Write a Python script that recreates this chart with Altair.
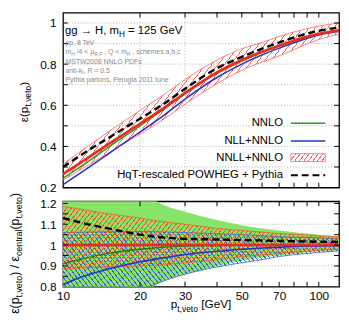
import math
import altair as alt
import pandas as pd

# ---------------- data ----------------
PT = [10, 12, 15, 20, 25, 30, 40, 50, 60, 70, 85, 100, 120]

# upper panel: jet-veto efficiency
EFF_NNLL = [0.265, 0.33, 0.41, 0.51, 0.59, 0.66, 0.76, 0.82, 0.86, 0.89, 0.925, 0.948, 0.965]
EFF_NNLL_UP = [0.314, 0.385, 0.47, 0.575, 0.655, 0.725, 0.82, 0.875, 0.905, 0.935, 0.965, 0.985, 1.0]
EFF_NNLL_DN = [0.235, 0.295, 0.367, 0.46, 0.535, 0.605, 0.705, 0.77, 0.81, 0.84, 0.885, 0.92, 0.945]
EFF_NNLO = [0.245, 0.31, 0.395, 0.50, 0.585, 0.655, 0.755, 0.815, 0.857, 0.887, 0.922, 0.945, 0.962]
EFF_NLL = [0.214, 0.28, 0.363, 0.47, 0.555, 0.63, 0.735, 0.80, 0.845, 0.878, 0.915, 0.942, 0.96]
EFF_POWHEG = [0.30, 0.365, 0.44, 0.535, 0.61, 0.68, 0.78, 0.835, 0.875, 0.905, 0.94, 0.962, 0.978]

# lower panel: ratio to central NNLL+NNLO
R_NNLL = [1.0, 1.0, 1.0, 1.0, 1.0, 1.0, 1.0, 1.0, 1.0, 1.0, 1.0, 1.0, 1.0]
R_POWHEG = [1.13, 1.105, 1.08, 1.05, 1.036, 1.03, 1.027, 1.024, 1.022, 1.02, 1.018, 1.016, 1.015]
R_NLL = [0.81, 0.85, 0.885, 0.92, 0.94, 0.955, 0.97, 0.98, 0.986, 0.99, 0.994, 0.996, 0.997]
R_NNLO = [0.91, 0.935, 0.96, 0.98, 0.99, 0.995, 0.998, 1.0, 1.0, 1.0, 1.0, 1.0, 1.0]
R_NNLO_UP = [1.6, 1.48, 1.36, 1.26, 1.19, 1.16, 1.12, 1.095, 1.08, 1.07, 1.058, 1.05, 1.04]
R_NNLO_DN = [0.55, 0.6, 0.67, 0.76, 0.83, 0.86, 0.9, 0.925, 0.94, 0.95, 0.962, 0.97, 0.975]
R_NNLL_UP = [1.185, 1.17, 1.15, 1.13, 1.11, 1.10, 1.08, 1.07, 1.062, 1.055, 1.05, 1.045, 1.04]
R_NNLL_DN = [0.885, 0.89, 0.895, 0.90, 0.905, 0.915, 0.93, 0.945, 0.953, 0.96, 0.968, 0.975, 0.98]
R_NLL_UP = [1.06, 1.062, 1.064, 1.065, 1.063, 1.06, 1.055, 1.05, 1.045, 1.04, 1.037, 1.035, 1.03]
R_NLL_DN = [0.62, 0.67, 0.71, 0.78, 0.83, 0.86, 0.895, 0.915, 0.93, 0.945, 0.957, 0.965, 0.972]

X_LABELS = [10, 20, 30, 50, 70, 100]
X_TICKS = [20, 30, 40, 50, 60, 70, 80, 90, 100]
X_GRID = [20, 30]
Y1_LABELS = [0.2, 0.4, 0.6, 0.8, 1.0]
Y1_TICKS = [0.3, 0.4, 0.5, 0.6, 0.7, 0.8, 0.9, 1.0]
Y1_GRID = [0.3, 0.4, 0.5, 0.6, 0.7, 0.8, 0.9, 1.0]
Y2_LABELS = [0.8, 0.9, 1.0, 1.1, 1.2]
Y2_TICKS = [0.85, 0.9, 0.95, 1.0, 1.05, 1.1, 1.15, 1.2]
Y2_GRID = [0.9, 1.0, 1.1]

LEGEND = ["NNLO", "NLL+NNLO", "NNLL+NNLO", "HqT-rescaled POWHEG + Pythia"]
INFO = ["pp, 8 TeV", "MSTW2008 NNLO PDFs", "Pythia partons, Perugia 2011 tune"]

# ---------------- style ----------------
FONT = "Liberation Sans"
W, H1, H2 = 281, 178, 87
X_DOM = [10, 120]
Y1_DOM = [0.2, 1.05]
Y2_DOM = [0.8, 1.21]
RED = "#ee2a1c"
PINK = "#ff6464"
GREEN = "#2e992e"
BLUE = "#2233c8"
FILL_GREEN = "#88e468"
ORANGE = "#ee5a28"
HBLUE = "#3c5fcc"
GRID = "#9a9a9a"
GRAYTXT = "#8a8a8a"
CLEAR = "rgba(255,255,255,0)"
ONE = alt.Data(values=[{"k": 0}])

AW = {' ': 278, '(': 333, ')': 333, '+': 584, ',': 278, '-': 333, '.': 278, '/': 278,
      '<': 584, '=': 584, '[': 278, ']': 278, 'ε': 446, 'μ': 577, '→': 1000}
for c in "0123456789":
    AW[c] = 556
AW.update({'A': 667, 'B': 667, 'C': 722, 'D': 722, 'E': 667, 'F': 611, 'G': 778, 'H': 722,
           'I': 278, 'K': 667, 'L': 556, 'M': 833, 'N': 722, 'O': 778, 'P': 667, 'Q': 778,
           'R': 722, 'S': 667, 'T': 611, 'V': 667, 'W': 944})
AW.update({'a': 556, 'b': 556, 'c': 500, 'd': 556, 'e': 556, 'f': 278, 'g': 556, 'h': 556,
           'i': 222, 'k': 500, 'l': 222, 'm': 833, 'n': 556, 'o': 556, 'p': 556, 'r': 333,
           's': 500, 't': 278, 'u': 556, 'v': 500, 'y': 500})


def tw(s, size):
    return sum(AW.get(c, 556) for c in s) / 1000.0 * size


def txt(s, x, y, size, color="black", align="left", baseline="alphabetic", angle=0):
    return alt.Chart(ONE).mark_text(
        text=s, fontSize=size, font=FONT, color=color, align=align,
        baseline=baseline, angle=angle
    ).encode(x=alt.value(x), y=alt.value(y))


def rich(segs, x, y, size, color="black", angle=0, center=False, sub=0.72):
    total = sum(tw(t, size * (sub if k else 1.0)) for t, k in segs)
    pos = -total / 2 if center else 0.0
    out = []
    for t, k in segs:
        fs = size * (sub if k else 1.0)
        shift = size * 0.27 if k else 0.0
        lead = len(t) - len(t.lstrip(" "))
        p = pos + tw(" " * lead, fs)
        s = t.strip(" ")
        if angle == 270:
            out.append(txt(s, x + shift, y - p, fs, color, angle=270))
        else:
            out.append(txt(s, x + p, y + shift, fs, color))
        pos += tw(t, fs)
    return out


def hatch(color, bw, bh, angle, spacing, lw, rising=True):
    s = math.tan(math.radians(angle))
    a0, b0 = s * bw / bh, 1.0
    lam = (a0 + b0) / (a0 * a0 + b0 * b0)
    a, b = a0 * lam, b0 * lam
    rate = a / (bw * (a * a + b * b))
    n = max(1, int(round(1.0 / (spacing * rate))))
    frac = min(0.9, (lw / math.sin(math.radians(angle))) / spacing)
    stops = []
    for i in range(n):
        o0, o1, o2 = i / n, (i + frac) / n, (i + 1) / n
        stops += [{"offset": round(o0, 5), "color": color},
                  {"offset": round(o1, 5), "color": color},
                  {"offset": round(o1, 5), "color": CLEAR},
                  {"offset": round(min(o2, 1.0), 5), "color": CLEAR}]
    if rising:
        x1, y1, x2, y2 = 0, 0, a, b
    else:
        x1, y1, x2, y2 = 0, 1, a, 1 - b
    return {"gradient": "linear", "stops": stops, "x1": x1, "y1": y1, "x2": x2, "y2": y2}


XS = alt.Scale(type="log", domain=X_DOM, nice=False)
YS1 = alt.Scale(domain=Y1_DOM, nice=False, zero=False)
YS2 = alt.Scale(domain=Y2_DOM, nice=False, zero=False)
LAB = dict(labelFont=FONT, labelFontSize=12, labelColor="black", domain=False,
           ticks=False, grid=False, title=None)
AY1 = alt.Axis(values=Y1_LABELS, format="~g", labelPadding=7, **LAB)
AY2 = alt.Axis(values=Y2_LABELS, format="~g", labelPadding=7, **LAB)
AX2 = alt.Axis(values=X_LABELS, format="~g", labelPadding=4, labelFlush=False, **LAB)


def panel(df, ys, ay, ax, h, bands, lines, gy, yticks):
    def X(f):
        return alt.X(f + ":Q", scale=XS, axis=ax)

    def Y(f):
        return alt.Y(f + ":Q", scale=ys, axis=ay)

    gdf_y = pd.DataFrame({"v": gy})
    gdf_x = pd.DataFrame({"v": X_GRID})
    L = [
        alt.Chart(gdf_y).mark_rule(color=GRID, strokeDash=[1, 2], strokeWidth=0.8)
        .encode(y=Y("v"), x=alt.value(0), x2=alt.value(W)),
        alt.Chart(gdf_x).mark_rule(color=GRID, strokeDash=[1, 2], strokeWidth=0.8)
        .encode(x=X("v"), y=alt.value(0), y2=alt.value(h)),
    ]
    for up, dn, fill, edge in bands:
        L.append(alt.Chart(df).mark_area(color=fill, clip=True, interpolate="monotone")
                 .encode(x=X("pt"), y=Y(up), y2=alt.Y2(dn + ":Q")))
        if edge:
            for f in (up, dn):
                L.append(alt.Chart(df).mark_line(color=edge, strokeWidth=0.8, clip=True,
                                                 interpolate="monotone")
                         .encode(x=X("pt"), y=Y(f)))
    for f, col, sw, dash in lines:
        kw = dict(color=col, strokeWidth=sw, clip=True, interpolate="monotone")
        if dash:
            kw["strokeDash"] = dash
        L.append(alt.Chart(df).mark_line(**kw).encode(x=X("pt"), y=Y(f)))
    tx = pd.DataFrame({"v": X_TICKS})
    ty = pd.DataFrame({"v": yticks})
    L += [
        alt.Chart(tx).mark_rule(color="black", strokeWidth=1).encode(x=X("v"), y=alt.value(0), y2=alt.value(5)),
        alt.Chart(tx).mark_rule(color="black", strokeWidth=1).encode(x=X("v"), y=alt.value(h - 5), y2=alt.value(h)),
        alt.Chart(ty).mark_rule(color="black", strokeWidth=1).encode(y=Y("v"), x=alt.value(0), x2=alt.value(5)),
        alt.Chart(ty).mark_rule(color="black", strokeWidth=1).encode(y=Y("v"), x=alt.value(W - 5), x2=alt.value(W)),
    ]
    return L


# ---------------- upper panel ----------------
top_df = pd.DataFrame({"pt": PT, "c": EFF_NNLL, "up": EFF_NNLL_UP, "dn": EFF_NNLL_DN,
                       "nnlo": EFF_NNLO, "nll": EFF_NLL, "pw": EFF_POWHEG})
bh_top = (max(EFF_NNLL_UP) - min(EFF_NNLL_DN)) / (Y1_DOM[1] - Y1_DOM[0]) * H1
top_layers = panel(
    top_df, YS1, AY1, None, H1,
    [("up", "dn", hatch(PINK, W, bh_top, 52, 6.3, 0.8, True), PINK)],
    [("nll", BLUE, 1.5, None), ("nnlo", GREEN, 1.5, None), ("c", RED, 2.6, None),
     ("pw", "black", 2.4, [7, 4])],
    Y1_GRID, Y1_TICKS)

top_layers += rich([("gg → H, m", 0), ("H", 1), (" = 125 GeV", 0)], 2, 21.5, 11.5)
top_layers.append(txt(INFO[0], 2.5, 32.5, 7, GRAYTXT))
top_layers += rich([("m", 0), ("H", 1), (" /4 < μ", 0), ("R,F", 1), (" , Q < m", 0), ("H", 1),
                    (" , schemes a,b,c", 0)], 2.5, 42.5, 7, GRAYTXT)
top_layers.append(txt(INFO[1], 2.5, 52, 7, GRAYTXT))
top_layers += rich([("anti-k", 0), ("t", 1), (", R = 0.5", 0)], 2.5, 61, 7, GRAYTXT)
top_layers.append(txt(INFO[2], 2.5, 71, 7, GRAYTXT))

# legend
LEG_Y = [112.5, 130.5, 147.5, 165.5]
for lab, yy in zip(LEGEND, LEG_Y):
    top_layers.append(txt(lab, 224, yy, 11.5, align="right", baseline="middle"))
top_layers.append(alt.Chart(ONE).mark_rule(color=GREEN, strokeWidth=1.5)
                  .encode(x=alt.value(232), x2=alt.value(267), y=alt.value(LEG_Y[0])))
top_layers.append(alt.Chart(ONE).mark_rule(color=BLUE, strokeWidth=1.5)
                  .encode(x=alt.value(232), x2=alt.value(267), y=alt.value(LEG_Y[1])))
top_layers.append(alt.Chart(ONE).mark_rect(fill=hatch(PINK, 35, 8, 52, 4.5, 0.9, True),
                                           stroke=PINK, strokeWidth=0.8)
                  .encode(x=alt.value(232), x2=alt.value(267), y=alt.value(LEG_Y[2] - 4),
                          y2=alt.value(LEG_Y[2] + 4)))
top_layers.append(alt.Chart(ONE).mark_rule(color="black", strokeWidth=2.2, strokeDash=[7, 4])
                  .encode(x=alt.value(232), x2=alt.value(267), y=alt.value(LEG_Y[3])))

# y title
top_layers += rich([("ε(p", 0), ("t,veto", 1), (")", 0)], -36, H1 / 2 + 2, 12, angle=270,
                   center=True)

top = alt.layer(*top_layers).properties(width=W, height=H1)

# ---------------- lower panel ----------------
bot_df = pd.DataFrame({"pt": PT, "c": R_NNLL, "pw": R_POWHEG, "nll": R_NLL, "nnlo": R_NNLO,
                       "gu": R_NNLO_UP, "gd": R_NNLO_DN, "ru": R_NNLL_UP, "rd": R_NNLL_DN,
                       "bu": R_NLL_UP, "bd": R_NLL_DN})
k2 = H2 / (Y2_DOM[1] - Y2_DOM[0])
bh_nll = (max(R_NLL_UP) - min(R_NLL_DN)) * k2
bh_nnll = (max(R_NNLL_UP) - min(R_NNLL_DN)) * k2
bot_layers = panel(
    bot_df, YS2, AY2, AX2, H2,
    [("gu", "gd", FILL_GREEN, None),
     ("bu", "bd", hatch(HBLUE, W, bh_nll, 52, 4.6, 1.0, False), HBLUE),
     ("ru", "rd", hatch(ORANGE, W, bh_nnll, 52, 4.6, 1.0, True), ORANGE)],
    [("nll", BLUE, 1.6, None), ("nnlo", "#1f7a1f", 1.3, None), ("c", RED, 2.6, None),
     ("pw", "black", 2.4, [7, 4])],
    Y2_GRID, Y2_TICKS)

bot_layers += rich([("ε(p", 0), ("t,veto", 1), (") / ε", 0), ("central", 1), ("(p", 0),
                    ("t,veto", 1), (")", 0)], -45, 53, 12.5, angle=270, center=True)
bot_layers += rich([("p", 0), ("t,veto", 1), (" [GeV]", 0)], W / 2, 109, 12, center=True)

bottom = alt.layer(*bot_layers).properties(width=W, height=H2)

chart = (
    alt.vconcat(top, bottom, spacing=14, bounds="flush")
    .resolve_scale(x="independent", y="independent")
    .properties(padding={"left": 0, "top": 0, "right": 0, "bottom": 0})
    .configure_view(stroke="black", strokeWidth=1.3)
)

chart.save("out.html", embed_options={"renderer": "svg", "actions": False})
